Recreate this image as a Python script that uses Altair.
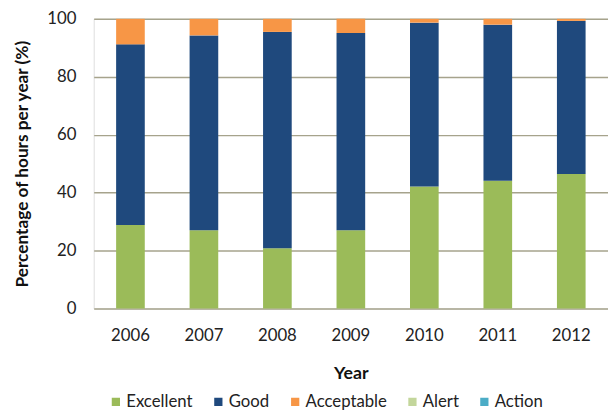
import altair as alt
import pandas as pd

years = ["2006", "2007", "2008", "2009", "2010", "2011", "2012"]
categories = ["Excellent", "Good", "Acceptable", "Alert", "Action"]
colors = ["#9BBB59", "#1F497D", "#F79646", "#C3D69B", "#4BACC6"]

excellent = [28.8, 27.0, 20.8, 27.0, 42.1, 44.1, 46.4]
good = [62.4, 67.3, 74.7, 68.1, 56.6, 53.9, 52.9]
acceptable = [8.8, 5.7, 4.5, 4.9, 1.3, 2.0, 0.7]
alert = [0, 0, 0, 0, 0, 0, 0]
action = [0, 0, 0, 0, 0, 0, 0]

series = [excellent, good, acceptable, alert, action]
rows = []
for ci, (cat, vals) in enumerate(zip(categories, series)):
    for y, v in zip(years, vals):
        rows.append({"Year": y, "Category": cat, "Value": v, "Order": ci})
df = pd.DataFrame(rows)

FONT = "Lato"

chart = alt.Chart(df).mark_bar().encode(
    x=alt.X("Year:N", sort=years,
            scale=alt.Scale(paddingInner=0.61, paddingOuter=0.305),
            axis=alt.Axis(title="Year", labelAngle=0, ticks=False, domain=False,
                          labelFontSize=17, labelColor="#222", labelPadding=19,
                          titleFontSize=18, titleFontWeight="bold", titlePadding=22,
                          titleColor="#111", labelFont=FONT, titleFont=FONT)),
    y=alt.Y("Value:Q", stack="zero",
            scale=alt.Scale(domain=[0, 100], nice=False),
            axis=alt.Axis(title="Percentage of hours per year (%)", values=[0, 20, 40, 60, 80, 100],
                          ticks=False, domain=False, labelFontSize=17, labelColor="#222",
                          labelPadding=18, grid=True, gridColor="#A6A38C", gridWidth=1.5,
                          titleFontSize=17.5, titleFontWeight="bold", titleColor="#111",
                          titlePadding=16, labelFont=FONT, titleFont=FONT)),
    color=alt.Color("Category:N", scale=alt.Scale(domain=categories, range=colors),
                    legend=alt.Legend(title=None, orient="none", direction="horizontal",
                                      legendX=14, legendY=380, symbolType="square",
                                      symbolSize=70, symbolStrokeWidth=0, labelFontSize=17,
                                      labelFont=FONT, labelColor="#222", columnPadding=17,
                                      labelOffset=2)),
    order=alt.Order("Order:Q", sort="ascending"),
).properties(
    width=522, height=294,
    autosize=alt.AutoSizeParams(type="none"),
    padding={"left": 87, "top": 8, "right": 0, "bottom": 102},
).configure_view(
    fill="#FAFAD2", stroke=None
).configure(background="white")

chart.save("out.html", embed_options={"renderer": "svg", "actions": False})
